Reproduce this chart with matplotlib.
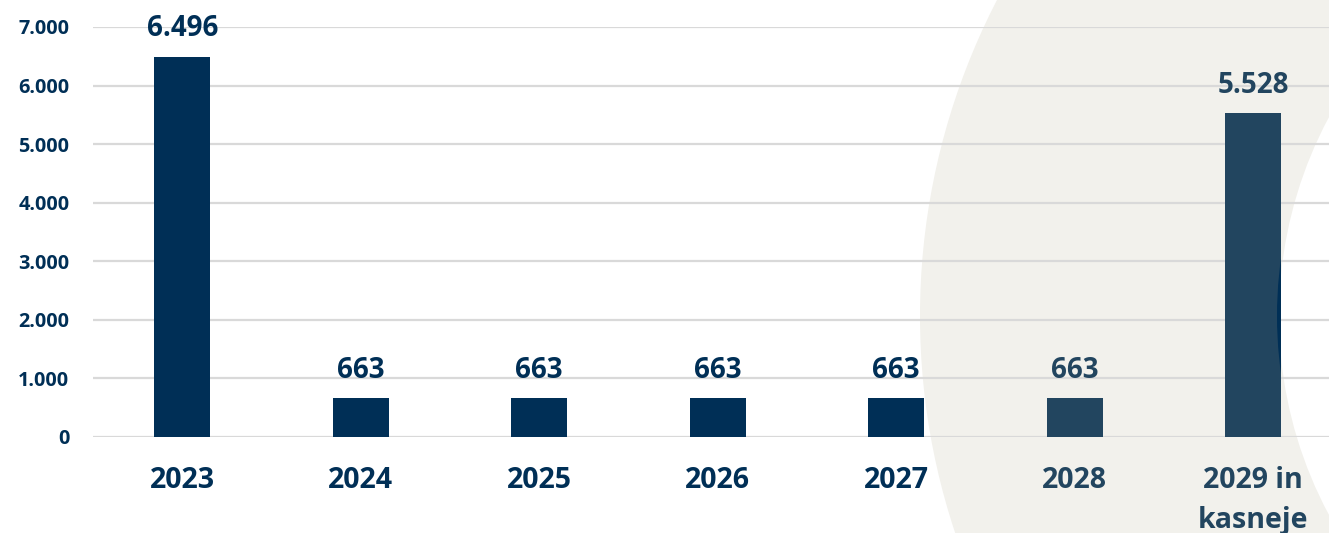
import matplotlib
matplotlib.use("Agg")
from matplotlib import pyplot as plt
from matplotlib.patches import Circle

# data
years = ["2023", "2024", "2025", "2026", "2027", "2028", "2029 in\nkasneje"]
values = [6496, 663, 663, 663, 663, 663, 5528]
value_labels = ["6.496", "663", "663", "663", "663", "663", "5.528"]
yticks = [0, 1000, 2000, 3000, 4000, 5000, 6000, 7000]
ytick_labels = ["0", "1.000", "2.000", "3.000", "4.000", "5.000", "6.000", "7.000"]

navy = "#002f56"
soft = "#22455f"
colors = [navy] * 5 + [soft] * 2

plt.rcParams["font.family"] = ["Open Sans", "DejaVu Sans"]
plt.rcParams["font.weight"] = "bold"

W, H = 1329, 533
fig = plt.figure(figsize=(W / 100, H / 100), dpi=100)

# decorative background circles (pixel coordinates)
bg = fig.add_axes([0, 0, 1, 1], zorder=0)
bg.set_xlim(0, W)
bg.set_ylim(H, 0)
bg.axis("off")
bg.add_patch(Circle((1607, 316), 687, color="#f2f1ec", lw=0))
bg.add_patch(Circle((1700, 316), 421, color="white", lw=0))

ax = fig.add_axes([93 / W, (H - 437) / H, (W - 93) / W, 410 / H], zorder=1)
ax.patch.set_alpha(0)

x = list(range(len(years)))
bars = ax.bar(x, values, width=0.314, color=colors, zorder=3)

# dark crescent peeking through the last bar
cres = Circle((1698, 316), 421, color=navy, lw=0, transform=bg.transData, zorder=4)
ax.add_patch(cres)
cres.set_clip_path(bars[-1])

for xi, v, lab, c in zip(x, values, value_labels, colors):
    ax.annotate(lab, (xi, v), xytext=(0, 14.5), textcoords="offset points",
                ha="center", va="baseline", fontsize=20, fontweight="bold",
                color=c, annotation_clip=False)

ax.set_xlim(-0.5, -0.5 + (W - 93) / 178.5)
ax.set_ylim(0, 7000)
ax.set_yticks(yticks)
ax.set_yticklabels(ytick_labels, fontsize=14.3, fontweight="bold", color=navy)
ax.set_xticks(x)
ax.set_xticklabels(years, fontsize=20.5, fontweight="bold", linespacing=1.5)
for lab, c in zip(ax.get_xticklabels(), colors):
    lab.set_color(c)
ax.tick_params(axis="y", length=0, pad=17)
ax.tick_params(axis="x", length=0, pad=21)
ax.yaxis.grid(True, color="#d9d9d9", lw=1.6, zorder=0)
ax.set_axisbelow(True)
for s in ax.spines.values():
    s.set_visible(False)

fig.savefig("out.png", dpi=100)
